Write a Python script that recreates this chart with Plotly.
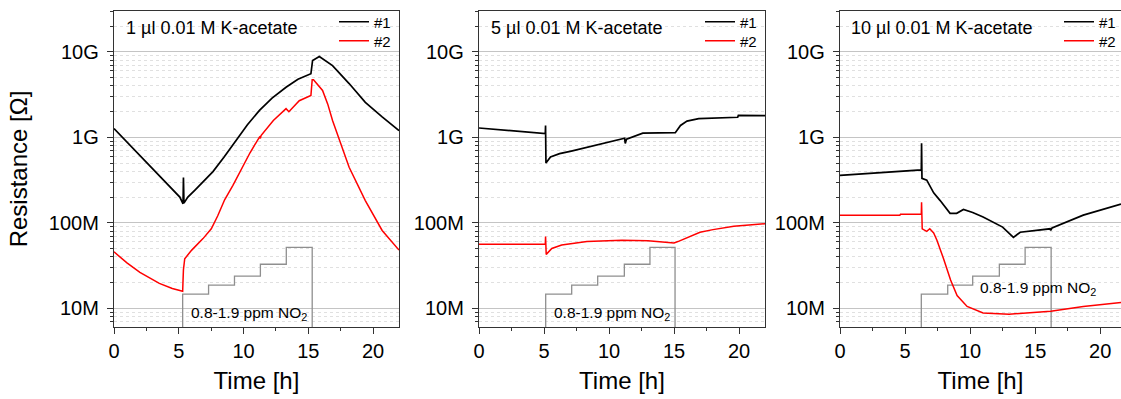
import plotly.graph_objects as go

W, H = 1121, 399

# ---------------- data (time in h, resistance in MOhm) ----------------
p1_t1 = [0, 1.0, 2.5, 4.0, 5.08, 5.33, 5.36, 5.40, 5.7, 6.23, 7.0, 7.64, 8.5, 9.44, 10.3,
         11.23, 12.2, 13.28, 14.2, 15.2, 15.33, 15.85, 16.5, 16.87, 18.15, 19.4, 20.7, 22]
p1_r1 = [1270, 885, 513, 295, 200, 167, 340, 170, 200, 240, 320, 398, 590, 920, 1410,
         2070, 2880, 3870, 4790, 5560, 7950, 8850, 7590, 6920, 4270, 2570, 1740, 1200]
p1_t2 = [0, 0.5, 1.0, 2.0, 2.5, 3.5, 4.5, 5.3, 5.33, 5.36, 5.46, 6.0, 6.87, 7.51, 8.0, 8.54,
         9.18, 9.82, 10.5, 11.23, 11.3, 11.35, 12.3, 13.28, 13.5, 14.3, 15.2, 15.3, 15.4,
         16.1, 16.5, 16.87, 18.15, 19.4, 20.7, 22]
p1_r2 = [45.7, 38.9, 33.9, 26.3, 23.7, 19.5, 17.0, 15.8, 21.4, 28.2, 38.0, 47.9, 65.3, 85.1,
         120, 186, 275, 417, 661, 1010, 977, 1050, 1580, 2170, 2000, 2690, 3090, 4730, 4730,
         3550, 2450, 1580, 447, 182, 81.3, 47.9]

p2_t1 = [0, 5.1, 5.12, 5.15, 5.5, 6.2, 7.1, 9.0, 10.5, 11.2, 11.25, 11.35, 12.6, 15.1, 15.5,
         16.0, 16.9, 19.9, 19.95, 22]
p2_r1 = [1288, 1109, 1380, 501, 589, 646, 692, 805, 912, 977, 851, 955, 1122, 1135, 1380,
         1550, 1660, 1720, 1810, 1800]
p2_t2 = [0, 5.1, 5.12, 5.17, 5.6, 6.36, 8.3, 11, 13, 15.0, 15.3, 16.2, 17.0, 18.0, 19.6, 22]
p2_r2 = [56.2, 56.2, 69.2, 42.7, 50.1, 55.0, 60.3, 62.4, 61.7, 58.2, 60.3, 69.2, 77.6, 83.2,
         91.2, 97.7]

p3_t1 = [0, 6.25, 6.27, 6.3, 6.67, 7.2, 7.7, 8.2, 8.46, 8.97, 9.49, 10.2, 11.0, 12.5, 13.33,
         13.85, 15.0, 16.15, 16.2, 16.3, 18.7, 21.6]
p3_r1 = [360, 417, 851, 331, 316, 224, 182, 147, 129, 129, 143, 132, 117, 89.1, 67.6,
         77.6, 81.3, 85.1, 81.3, 87.1, 123, 166]
p3_t2 = [0, 4.6, 4.65, 6.25, 6.27, 6.32, 6.67, 6.9, 7.2, 7.45, 7.96, 8.5, 9.0, 9.77, 11.0,
         13.0, 16.2, 18.7, 21.6]
p3_r2 = [123, 123, 126, 126, 174, 85.1, 79.4, 85.1, 75.9, 62.4, 38.0, 21.4, 14.1, 10.5, 8.81,
         8.51, 9.23, 10.5, 11.7]

# NO2 step profile (switch times in h; levels drawn on the resistance axis, MOhm)
no2_levels = [14.6, 18.6, 23.7, 32.7, 51.6]
p1_steps = [5.3, 7.3, 9.3, 11.3, 13.3, 15.3]
p2_steps = [5.13, 7.13, 9.13, 11.18, 13.15, 15.08]
p3_steps = [6.25, 8.28, 10.2, 12.25, 14.23, 16.23]

panel_titles = ["1 µl 0.01 M K-acetate", "5 µl 0.01 M K-acetate", "10 µl 0.01 M K-acetate"]
series_names = ["#1", "#2"]
y_tick_vals = [1e7, 1e8, 1e9, 1e10]
y_tick_text = ["10M", "100M", "1G", "10G"]
x_tick_vals = [0, 5, 10, 15, 20]
no2_label = "0.8-1.9 ppm NO<sub>2</sub>"

# ---------------- figure ----------------
FONT = "Arial, Liberation Sans, sans-serif"
fig = go.Figure()

panels = [
    (p1_t1, p1_r1, p1_t2, p1_r2, p1_steps),
    (p2_t1, p2_r1, p2_t2, p2_r2, p2_steps),
    (p3_t1, p3_r1, p3_t2, p3_r2, p3_steps),
]
xdom = [(114 / W, 399 / W), (479 / W, 765 / W), (840 / W, 1.0)]
xmax = [22, 22, 21.6]
ydom = (1 - 327 / H, 1 - 11 / H)
M = 1e6

def leg_name(n):
    return "legend" if n == 1 else "legend" + str(n)

for i, (t1, r1, t2, r2, steps) in enumerate(panels):
    sfx = "" if i == 0 else str(i + 1)
    xa, ya = "x" + sfx, "y" + sfx
    # NO2 steps
    floor = 1.0
    sx = [steps[0], steps[0]] + steps[1:5] + [steps[5], steps[5]]
    sy = [floor] + no2_levels + [no2_levels[-1], floor]
    fig.add_trace(go.Scatter(x=sx, y=[v * M for v in sy], mode="lines", line_shape="hv",
                             line=dict(color="#8f8f8f", width=1.3), showlegend=False,
                             xaxis=xa, yaxis=ya, hoverinfo="skip"))
    fig.add_trace(go.Scatter(x=t1, y=[v * M for v in r1], mode="lines", name=series_names[0],
                             line=dict(color="black", width=1.7), xaxis=xa, yaxis=ya,
                             legend=leg_name(2 * i + 1)))
    fig.add_trace(go.Scatter(x=t2, y=[v * M for v in r2], mode="lines", name=series_names[1],
                             line=dict(color="#ff0000", width=1.5), xaxis=xa, yaxis=ya,
                             legend=leg_name(2 * i + 2)))

axis_common = dict(showline=True, linecolor="#333333", linewidth=1.4, mirror=True,
                   ticks="outside", tickcolor="#333333", tickwidth=1.2, automargin=False,
                   tickfont=dict(family=FONT, size=20, color="black"), zeroline=False)

minor_y = [k * 10 ** n for n in range(6, 11) for k in range(2, 10)]

for i in range(3):
    sfx = "" if i == 0 else str(i + 1)
    fig.layout["xaxis" + sfx] = dict(
        axis_common, domain=xdom[i], anchor="y" + sfx, range=[0, xmax[i]],
        tickvals=x_tick_vals, ticklen=6, showgrid=False,
        minor=dict(ticks="outside", dtick=2.5, tick0=0, ticklen=3, tickcolor="#333333", showgrid=False),
        title=dict(text="Time [h]", font=dict(family=FONT, size=24, color="black"), standoff=10),
    )
    fig.layout["yaxis" + sfx] = dict(
        axis_common, domain=ydom, anchor="x" + sfx, type="log", range=[6.78, 10.48],
        tickvals=y_tick_vals, ticktext=y_tick_text, ticklen=6,
        showgrid=True, gridcolor="#c4c4c4", gridwidth=1,
        minor=dict(tickmode="array", tickvals=minor_y, ticks="outside", ticklen=3,
                   tickcolor="#333333", showgrid=True, gridcolor="#e0e0e0", griddash="dot", gridwidth=1),
        ticklabelstandoff=4,
    )
fig.layout.yaxis.title = dict(text="Resistance [Ω]", font=dict(family=FONT, size=24, color="black"),
                              standoff=14)

# legends: one per series per panel
leg_x = [396 / W, 762 / W, 1121 / W]
row_y = [22, 41]
for i in range(3):
    for j in range(2):
        fig.layout[leg_name(2 * i + j + 1)] = dict(
            x=leg_x[i], xanchor="right", y=1 - row_y[j] / H, yanchor="middle",
            bgcolor="rgba(0,0,0,0)", borderwidth=0,
            font=dict(family=FONT, size=15, color="black"), itemwidth=30)

annotations = []
title_x = [124, 489, 849]
for i in range(3):
    annotations.append(dict(text=panel_titles[i], x=title_x[i] / W, xref="paper", xanchor="left",
                            y=1 - 28 / H, yref="paper", yanchor="middle", showarrow=False,
                            font=dict(family=FONT, size=18, color="black")))
no2_pos = [(10.45, 6.94), (10.2, 6.94), (15.2, 7.234)]
for i, (ax, ay) in enumerate(no2_pos):
    sfx = "" if i == 0 else str(i + 1)
    annotations.append(dict(text=no2_label, x=ax, y=ay, xref="x" + sfx, yref="y" + sfx,
                            showarrow=False, xanchor="center", yanchor="middle",
                            font=dict(family=FONT, size=15.5, color="black")))
fig.update_layout(annotations=annotations)

fig.update_layout(width=W, height=H, margin=dict(l=0, r=0, t=0, b=0),
                  paper_bgcolor="white", plot_bgcolor="white", showlegend=True,
                  font=dict(family=FONT, color="black"))

fig.write_html("out.html")
